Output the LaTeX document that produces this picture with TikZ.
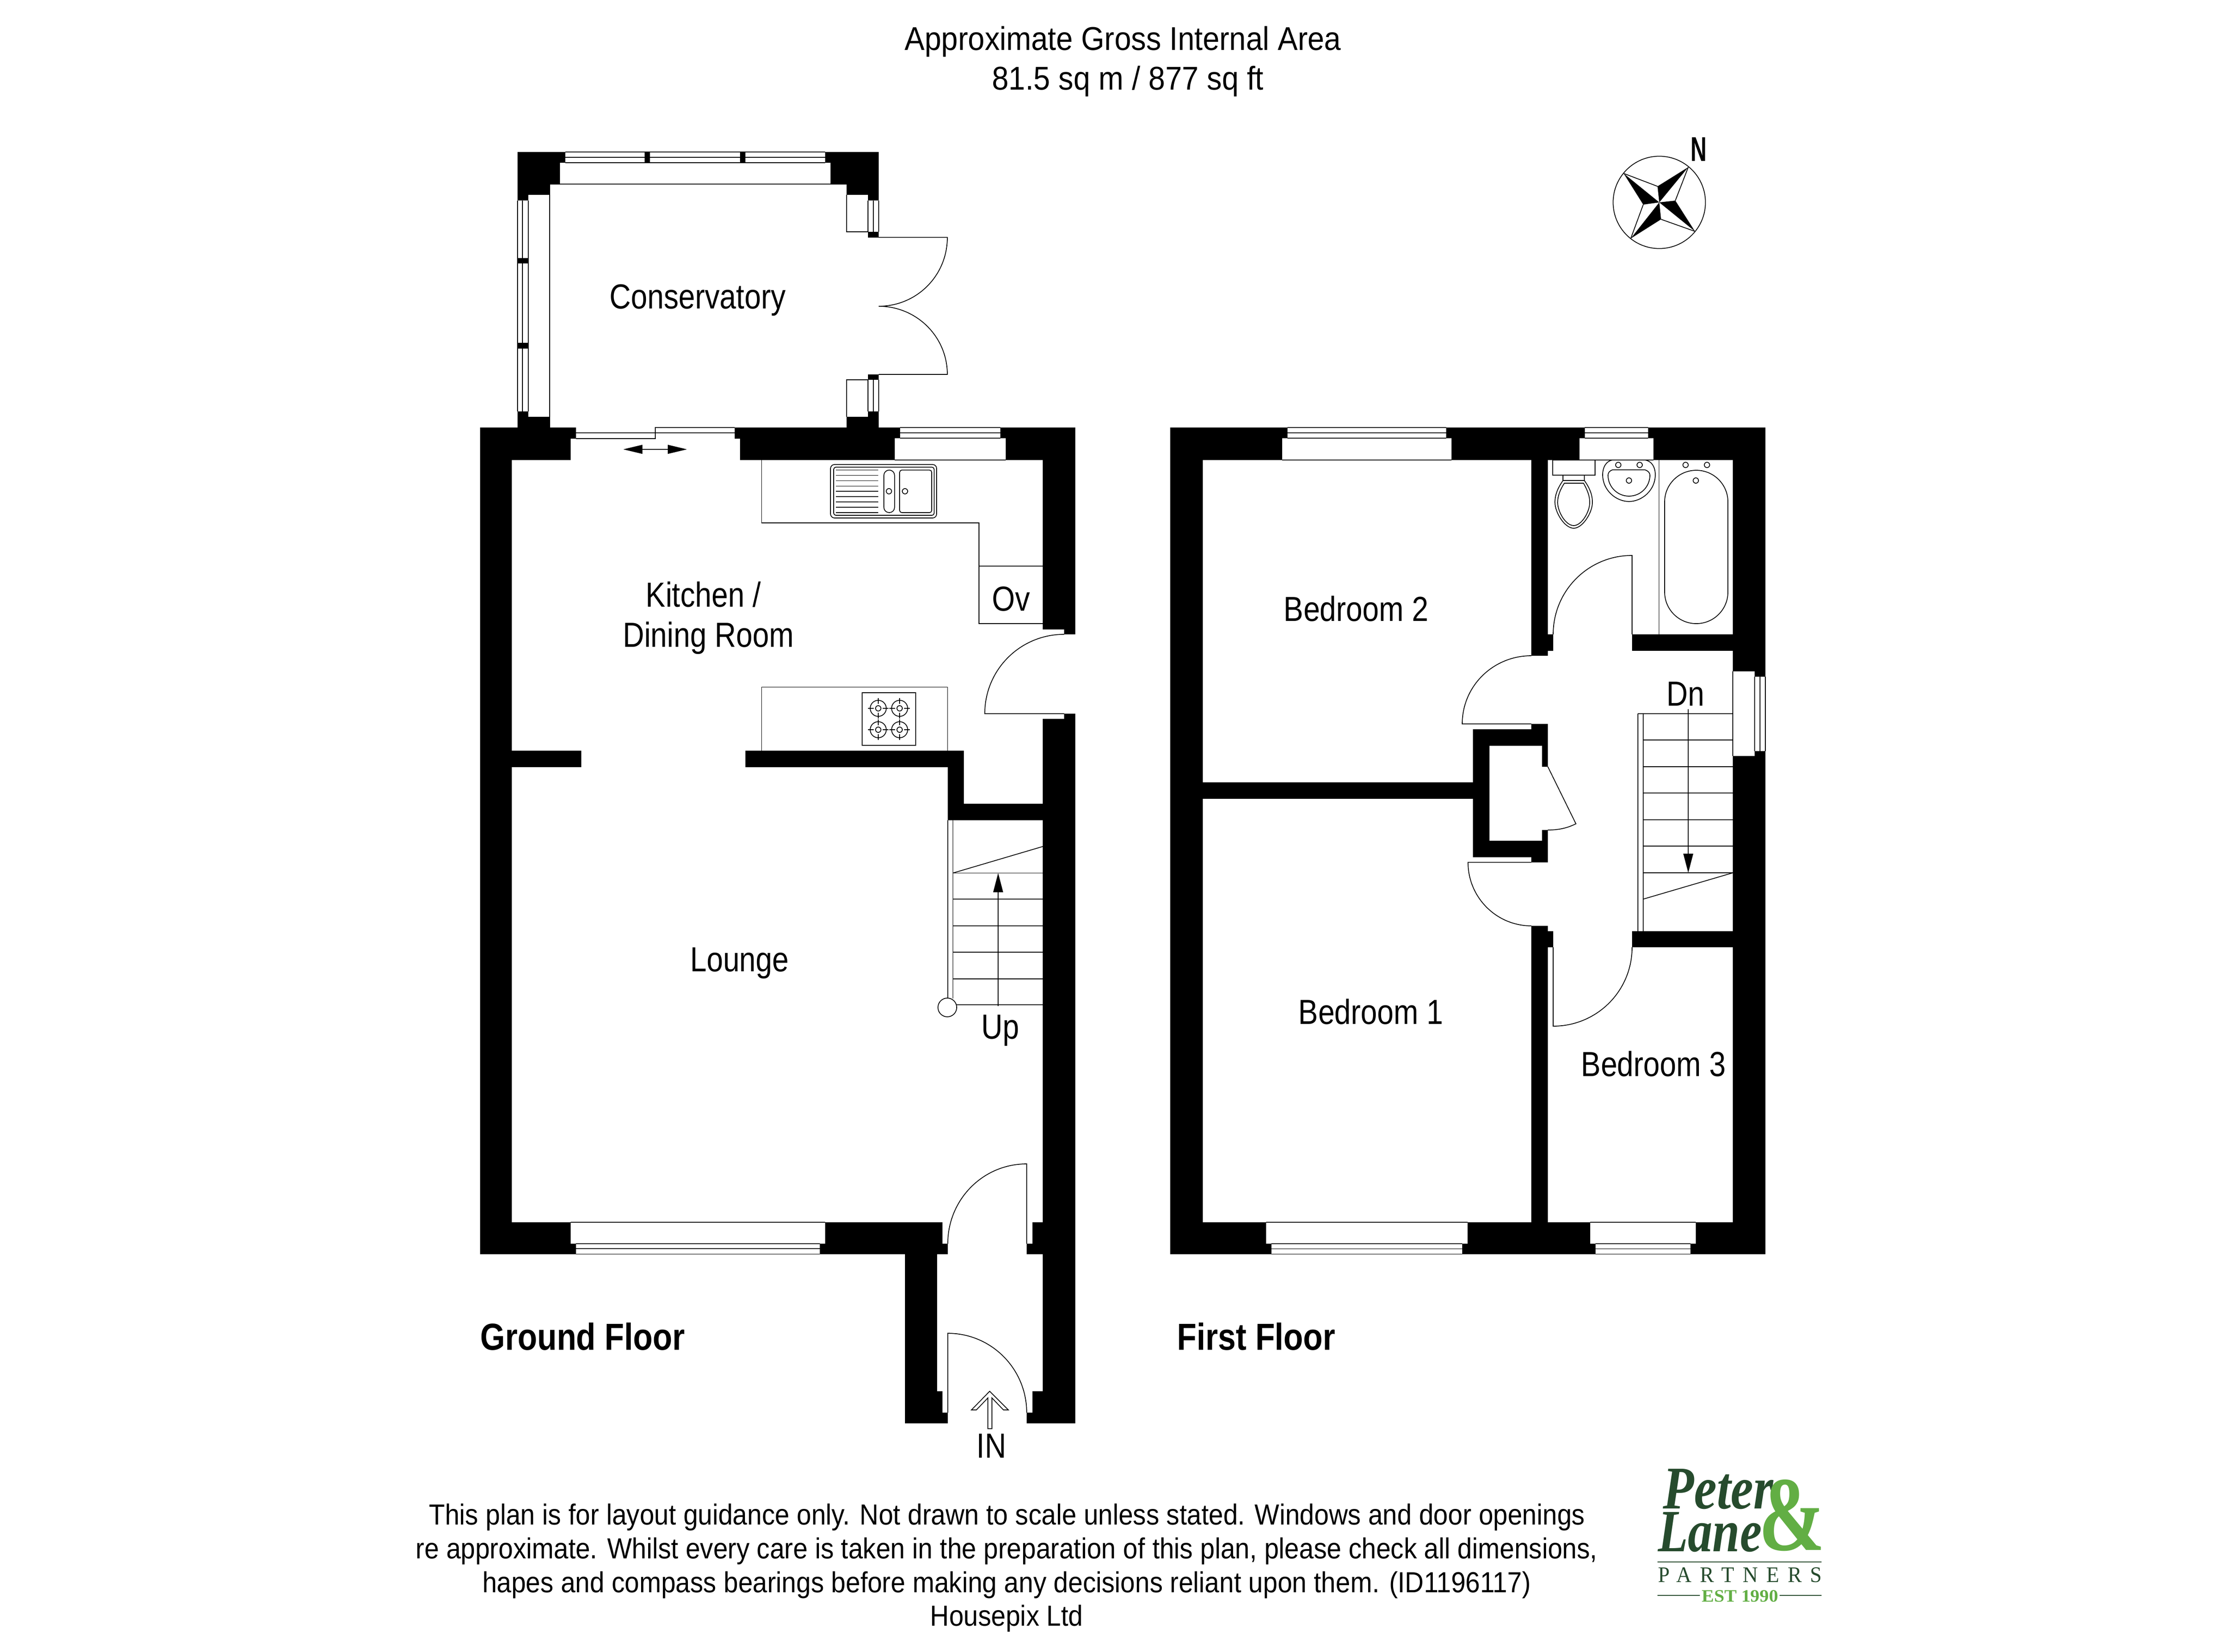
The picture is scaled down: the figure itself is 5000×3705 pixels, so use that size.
\documentclass[tikz,border=0pt]{standalone}
\usepackage{fontspec}
\setmainfont[FakeStretch=0.85]{Liberation Sans}
\newfontfamily\headingfont[FakeStretch=0.91]{Liberation Sans}
\newfontfamily\notesfont[FakeStretch=0.902]{Liberation Sans}
\newfontfamily\logofont{Liberation Serif}
\newfontfamily\logospaced[LetterSpace=40]{Liberation Serif}
\usetikzlibrary{positioning}
\usetikzlibrary{arrows.meta}
\definecolor{logodark}{HTML}{264B2D}
\definecolor{logolight}{HTML}{62AE44}

\tikzset{
  wall/.style={fill=black,draw=none},
  plan/.style={line width=0.5pt,line join=miter},
  stairtip/.style={-{Triangle[length=0.43cm,width=0.22cm]},line width=0.5pt},
  room/.style={font=\fontsize{22.2}{26}\selectfont,anchor=base,inner sep=0pt},
  floorname/.style={font=\fontsize{24}{28}\selectfont\bfseries,anchor=base west,inner sep=0pt},
  heading/.style={font=\headingfont\fontsize{21}{25}\selectfont,anchor=base,inner sep=0pt},
  notes/.style={font=\notesfont\fontsize{18.5}{22}\selectfont,anchor=base,inner sep=0pt},
  logo/.style={anchor=base west,inner sep=0pt,text=logodark}
}

\begin{document}
\begin{tikzpicture}[x=0.01cm,y=-0.01cm]
\useasboundingbox (0,0) rectangle (5000,3705);

% conservatory
\fill[wall] (1161,341) -- (1268,341) -- (1268,365) -- (1256,365) -- (1256,413) -- (1233,413) -- (1233,437) -- (1185,437) -- (1185,449.5) -- (1161,449.5) -- cycle;
\fill[wall] (1851,341) -- (1971,341) -- (1971,449.5) -- (1947,449.5) -- (1947,437) -- (1899,437) -- (1899,413) -- (1863,413) -- (1863,365) -- (1851,365) -- cycle;
\fill[wall] (1161,923) -- (1185,923) -- (1185,935) -- (1233,935) -- (1233,959) -- (1161,959) -- cycle;
\fill[wall] (1947,923) -- (1971,923) -- (1971,959) -- (1899,959) -- (1899,935) -- (1947,935) -- cycle;
\fill[wall] (1446,341) rectangle (1458,365);
\fill[wall] (1660,341) rectangle (1672,365);
\fill[wall] (1161,579) rectangle (1185,591);
\fill[wall] (1161,769) rectangle (1185,782);
\fill[wall] (1947,520) rectangle (1971,532.6);
\fill[wall] (1947,840) rectangle (1971,852);
\draw[plan] (1268,341) -- (1851,341) (1268,353) -- (1851,353) (1268,365) -- (1851,365);
\draw[plan] (1233,413) -- (1899,413);
\draw[plan] (1233,413) -- (1233,959);
\draw[plan] (1161,449.5) -- (1161,923) (1172,449.5) -- (1172,923) (1185,449.5) -- (1185,923);
\draw[plan] (1899,437) -- (1899,520) -- (1947,520);
\draw[plan] (1899,935) -- (1899,852) -- (1947,852);
\draw[plan] (1947,449.5) -- (1947,520) (1959,449.5) -- (1959,520) (1971,449.5) -- (1971,520);
\draw[plan] (1947,852) -- (1947,923) (1959,852) -- (1959,923) (1971,852) -- (1971,923);
\draw[plan] (1971,532.6) -- (2125,532.6) to[out=-90,in=0] (1971,687);
\draw[plan] (1971,840) -- (2125,840) to[out=90,in=0] (1971,687);
\node[room] (conservatory) at (1565,692) {Conservatory};

% ground floor walls
\fill[wall] (1077,959) -- (1292,959) -- (1292,984) -- (1280,984) -- (1280,1032) -- (1148,1032) -- (1148,2742) -- (1280,2742) -- (1280,2790) -- (1292,2790) -- (1292,2813.5) -- (1077,2813.5) -- cycle;
\fill[wall] (1648,959) -- (2019,959) -- (2019,983) -- (2007,983) -- (2007,1032) -- (1660,1032) -- (1660,984) -- (1648,984) -- cycle;
\fill[wall] (2244,959) -- (2412,959) -- (2412,1423) -- (2387,1423) -- (2387,1412) -- (2339,1412) -- (2339,1032) -- (2256,1032) -- (2256,983) -- (2244,983) -- cycle;
\fill[wall] (2339,1612.5) -- (2387,1612.5) -- (2387,1601) -- (2412,1601) -- (2412,3193) -- (2303,3193) -- (2303,3169) -- (2316,3169) -- (2316,3121) -- (2339,3121) -- (2339,2813.5) -- (2303,2813.5) -- (2303,2790) -- (2316,2790) -- (2316,2742) -- (2339,2742) -- cycle;
\fill[wall] (1839,2790) -- (1851,2790) -- (1851,2742) -- (2114,2742) -- (2114,2790) -- (2126,2790) -- (2126,2813.5) -- (2102,2813.5) -- (2102,3121) -- (2114,3121) -- (2114,3169) -- (2126,3169) -- (2126,3193) -- (2030,3193) -- (2030,2813.5) -- (1839,2813.5) -- cycle;
\fill[wall] (1148,1684) rectangle (1304,1721);
\fill[wall] (1672,1684) -- (2162,1684) -- (2162,1803) -- (2339,1803) -- (2339,1840) -- (2126,1840) -- (2126,1721) -- (1672,1721) -- cycle;

% sliding door and windows
\draw[plan] (1292,971) -- (1470,971) -- (1470,959) -- (1648,959) (1292,984) -- (1470,984) -- (1470,971) (1470,971) -- (1648,971);
\draw[stairtip,{Triangle[length=0.43cm,width=0.2cm]}-{Triangle[length=0.43cm,width=0.2cm]}] (1398,1008) -- (1541,1008);
\draw[plan] (2019,959) -- (2244,959) (2019,971) -- (2244,971) (2019,983) -- (2244,983);
\draw[plan] (2007,1032) -- (2256,1032);
\draw[plan] (1280,2742) -- (1851,2742);
\draw[plan] (1292,2790) -- (1839,2790) (1292,2801) -- (1839,2801) (1292,2813.5) -- (1839,2813.5);

% kitchen units
\draw[plan] (1708.5,1032) -- (1708.5,1173) -- (2196,1173) -- (2196,1399) -- (2339,1399);
\draw[plan] (2196,1270) -- (2339,1270);
\draw[plan] (1708.5,1684) -- (1708.5,1541.5) -- (2125.4,1541.5) -- (2125.4,1684);
\draw[plan,rounded corners=0.09cm] (1863,1042) rectangle (2101,1162);
\draw[plan,rounded corners=0.05cm] (1870,1048) rectangle (2095.5,1156);
\foreach \liney in {1054.5,1066.5,1078.5,1090.5,1102,1114,1126,1138,1150}
  \draw[plan] (1875,\liney) -- (1970,\liney);
\draw[plan,rounded corners=0.12cm] (1982.6,1054.5) rectangle (2006.7,1150);
\draw[plan,rounded corners=0.05cm] (2018,1054.5) rectangle (2090,1150);
\draw[plan] (1994,1102) circle[radius=0.06cm];
\draw[plan] (2030,1102) circle[radius=0.06cm];
\draw[plan] (1934,1553.6) rectangle (2053.6,1672);
\foreach \burnerx in {1970,2018}
  \foreach \burnery in {1589,1637} {
    \draw[plan] (\burnerx,\burnery) circle[radius=0.18cm];
    \draw[plan] (\burnerx,\burnery) circle[radius=0.06cm];
    \draw[plan] (\burnerx-23,\burnery) -- (\burnerx-10,\burnery) (\burnerx+10,\burnery) -- (\burnerx+23,\burnery);
    \draw[plan] (\burnerx,\burnery-23) -- (\burnerx,\burnery-10) (\burnerx,\burnery+10) -- (\burnerx,\burnery+23);
  }

% stairs up
\draw[plan] (2126,1840) -- (2126,2239) (2137.5,1840) -- (2137.5,2240);
\foreach \tready in {1958.5,2017,2077,2136,2196,2254}
  \draw[plan] (2137.5,\tready) -- (2339,\tready);
\draw[plan] (2137.5,1958.5) -- (2339,1899);
\draw[plan,fill=white] (2125,2260) circle[radius=0.21cm];
\draw[stairtip] (2239,2257) -- (2239,1958.5);

% ground floor doors
\draw[plan] (2387,1601) -- (2209,1601) to[out=90,in=180] (2387,1423);
\draw[plan] (2303,2790) -- (2303,2611) to[out=180,in=90] (2126,2790);
\draw[plan] (2126,3169) -- (2126,2991) to[out=0,in=90] (2303,3169);
\draw[plan] (2220,3121) -- (2262,3163) -- (2251,3163) -- (2225,3136) -- (2225,3205) -- (2216,3205) -- (2216,3136) -- (2190,3163) -- (2179,3163) -- cycle;

\node[room] (kitchen) at (1578,1361) {Kitchen /};
\node[room] (dining) at (1589,1451) {Dining Room};
\node[room] (oven) at (2268,1370) {Ov};
\node[room] (lounge) at (1659,2179) {Lounge};
\node[room] (upsign) at (2244,2330) {Up};
\node[room] (insign) at (2224,3270) {IN};
\node[floorname] (groundfloor) at (1077,3028) {Ground Floor};

% first floor walls
\fill[wall] (2625,959) -- (2888,959) -- (2888,983) -- (2876,983) -- (2876,1032) -- (2698,1032) -- (2698,2742) -- (2840,2742) -- (2840,2790) -- (2852,2790) -- (2852,2813.5) -- (2625,2813.5) -- cycle;
\fill[wall] (3244,959) -- (3555,959) -- (3555,983) -- (3543,983) -- (3543,1032) -- (3256,1032) -- (3256,983) -- (3244,983) -- cycle;
\fill[wall] (3697,959) -- (3960,959) -- (3960,1518) -- (3936,1518) -- (3936,1506) -- (3887,1506) -- (3887,1032) -- (3709,1032) -- (3709,983) -- (3697,983) -- cycle;
\fill[wall] (3887,1696) -- (3936,1696) -- (3936,1685) -- (3960,1685) -- (3960,2813.5) -- (3792,2813.5) -- (3792,2790) -- (3804,2790) -- (3804,2742) -- (3887,2742) -- cycle;
\fill[wall] (3280,2790) -- (3292,2790) -- (3292,2742) -- (3567,2742) -- (3567,2790) -- (3579,2790) -- (3579,2813.5) -- (3280,2813.5) -- cycle;
\fill[wall] (3435,1032) -- (3472,1032) -- (3472,1423) -- (3484,1423) -- (3484,1460) -- (3472,1460) -- (3472,1471) -- (3435,1471) -- cycle;
\fill[wall] (3435,2077) -- (3472,2077) -- (3472,2089) -- (3484,2089) -- (3484,2125) -- (3472,2125) -- (3472,2742) -- (3435,2742) -- cycle;
\fill[wall] (3661,1423) rectangle (3887,1460);
\fill[wall] (3661,2089) rectangle (3887,2125);
\fill[wall] (2698,1755) rectangle (3304,1792);
\fill[wall] (3304,1636) -- (3435,1636) -- (3435,1624) -- (3472,1624) -- (3472,1720) -- (3459,1720) -- (3459,1673) -- (3341,1673) -- (3341,1886) -- (3459,1886) -- (3459,1862) -- (3472,1862) -- (3472,1934.5) -- (3435,1934.5) -- (3435,1923) -- (3304,1923) -- cycle;

% first floor windows
\draw[plan] (2888,959) -- (3244,959) (2888,971) -- (3244,971) (2888,983) -- (3244,983);
\draw[plan] (2876,1032) -- (3256,1032);
\draw[plan] (3555,959) -- (3697,959) (3555,971) -- (3697,971) (3555,983) -- (3697,983);
\draw[plan] (3543,1032) -- (3709,1032);
\draw[plan] (3936,1518) -- (3936,1685) (3948,1518) -- (3948,1685) (3960,1518) -- (3960,1685);
\draw[plan] (3887,1506) -- (3887,1696);
\draw[plan] (2840,2742) -- (3292,2742);
\draw[plan] (2852,2790) -- (3280,2790) (2852,2801.5) -- (3280,2801.5) (2852,2813.5) -- (3280,2813.5);
\draw[plan] (3567,2742) -- (3804,2742);
\draw[plan] (3579,2790) -- (3792,2790) (3579,2801.5) -- (3792,2801.5) (3579,2813.5) -- (3792,2813.5);

% bathroom
\draw[plan] (3721.4,1032) -- (3721.4,1423);
\draw[plan] (3483,1032) rectangle (3578,1066);
\draw[plan] (3506,1066) rectangle (3554,1078);
\draw[plan] (3506,1078) .. controls (3494,1095) and (3488,1110) .. (3488,1127) .. controls (3488,1150) and (3510,1185) .. (3530,1185) .. controls (3550,1185) and (3572,1150) .. (3572,1127) .. controls (3572,1110) and (3566,1095) .. (3554,1078);
\draw[plan] (3509,1084) .. controls (3500,1098) and (3494,1112) .. (3494,1127) .. controls (3494,1148) and (3512,1179) .. (3530,1179) .. controls (3548,1179) and (3566,1148) .. (3566,1127) .. controls (3566,1112) and (3560,1098) .. (3552,1084) -- cycle;
\draw[plan] (3617,1032) .. controls (3603,1034) and (3595,1048) .. (3595,1065) .. controls (3595,1100) and (3625,1125) .. (3654,1125) .. controls (3683,1125) and (3713,1100) .. (3713,1065) .. controls (3713,1048) and (3705,1034) .. (3690,1032);
\draw[plan] (3617,1054) -- (3690,1054) .. controls (3696,1056) and (3701,1060) .. (3701,1066) .. controls (3701,1092) and (3680,1113) .. (3654,1113) .. controls (3628,1113) and (3607,1092) .. (3607,1066) .. controls (3607,1060) and (3611,1056) .. (3617,1054) -- cycle;
\draw[plan,rounded corners=0.71cm] (3734,1055) rectangle (3876,1399);
\foreach \holex/\holey in {3630/1043,3678/1043,3654/1078,3781/1043,3829/1043,3804/1078}
  \draw[plan] (\holex,\holey) circle[radius=0.06cm];

% stairs down
\draw[plan] (3674,1601) -- (3887,1601);
\draw[plan] (3674,1601) -- (3674,2089) (3686,1601) -- (3686,2089);
\foreach \tready in {1660,1720,1779,1839,1898,1958}
  \draw[plan] (3686,\tready) -- (3887,\tready);
\draw[plan] (3887,1958) -- (3686,2017);
\draw[stairtip] (3787,1591) -- (3787,1958);

% first floor doors
\draw[plan] (3661,1423) -- (3661,1246) to[out=180,in=90] (3484,1423);
\draw[plan] (3435,1624) -- (3280,1624) to[out=90,in=180] (3435,1471);
\draw[plan] (3435,1934.5) -- (3293,1934.5) to[out=-90,in=180] (3435,2077);
\draw[plan] (3484,2125) -- (3484,2302) to[out=0,in=-90] (3661,2125);
\draw[plan] (3472,1720) -- (3535,1848) .. controls (3515,1858) and (3495,1862) .. (3472,1862);

\node[room] (bedtwo) at (3042,1393) {Bedroom 2};
\node[room] (bedone) at (3075,2297) {Bedroom 1};
\node[room] (bedthree) at (3709,2414) {Bedroom 3};
\node[room] (downsign) at (3781,1583) {Dn};
\node[floorname] (firstfloor) at (2640,3028) {First Floor};

% compass
\coordinate (hub) at (3722,454);
\draw[plan] (hub) circle[radius=1.035cm];
\fill (hub) -- (3718,418) -- (3787,375) -- cycle;
\fill (hub) -- (3758,450) -- (3802,519) -- cycle;
\fill (hub) -- (3726,492) -- (3658,535) -- cycle;
\fill (hub) -- (3686,459) -- (3642,389) -- cycle;
\draw[plan] (3787,375) -- (3758,450) (3802,519) -- (3726,492) (3658,535) -- (3686,459) (3642,389) -- (3718,418);
\node[anchor=base west,inner sep=0pt] (north) at (3792,361) {\resizebox{0.36cm}{0.53cm}{\bfseries N}};

% title and small print
\node[heading] (areatitle) at (2519,112) {Approximate Gross Internal Area};
\node[heading] (areavalue) at (2530,201) {81.5 sq m / 877 sq ft};
\node[notes] (noteone) at (2259,3420) {This plan is for layout guidance only. Not drawn to scale unless stated. Windows and door openings};
\node[notes] (notetwo) at (2258,3496) {re approximate. Whilst every care is taken in the preparation of this plan, please check all dimensions,};
\node[notes] (notethree) at (2258,3572) {hapes and compass bearings before making any decisions reliant upon them. (ID1196117)};
\node[notes] (notefour) at (2258,3647) {Housepix Ltd};

% logo
\node[logo] (peter) at (3730,3384) {\resizebox{2.47cm}{0.89cm}{\logofont\bfseries\itshape Peter}};
\node[logo] (lane) at (3719,3480) {\resizebox{2.32cm}{0.88cm}{\logofont\bfseries\itshape Lane}};
\node[logo,text=logolight] (ampersand) at (3945,3477) {\resizebox{1.48cm}{1.58cm}{\logofont\bfseries\&}};
\node[logo] (partners) at (3719,3549) {\resizebox{3.67cm}{0.33cm}{\logospaced PARTNERS}};
\node[logo,text=logolight] (established) at (3817,3593) {\resizebox{1.71cm}{0.26cm}{\logofont\bfseries EST 1990}};
\coordinate (ruleleft) at (3718,3504);
\coordinate (ruleright) at (4086,3504);
\draw[logodark,line width=0.5pt] (ruleleft) -- (ruleright);
\draw[logodark,line width=0.5pt] (3718,3579) -- (3813,3579);
\draw[logodark,line width=0.5pt] (3992,3579) -- (4086,3579);
\end{tikzpicture}
\end{document}
